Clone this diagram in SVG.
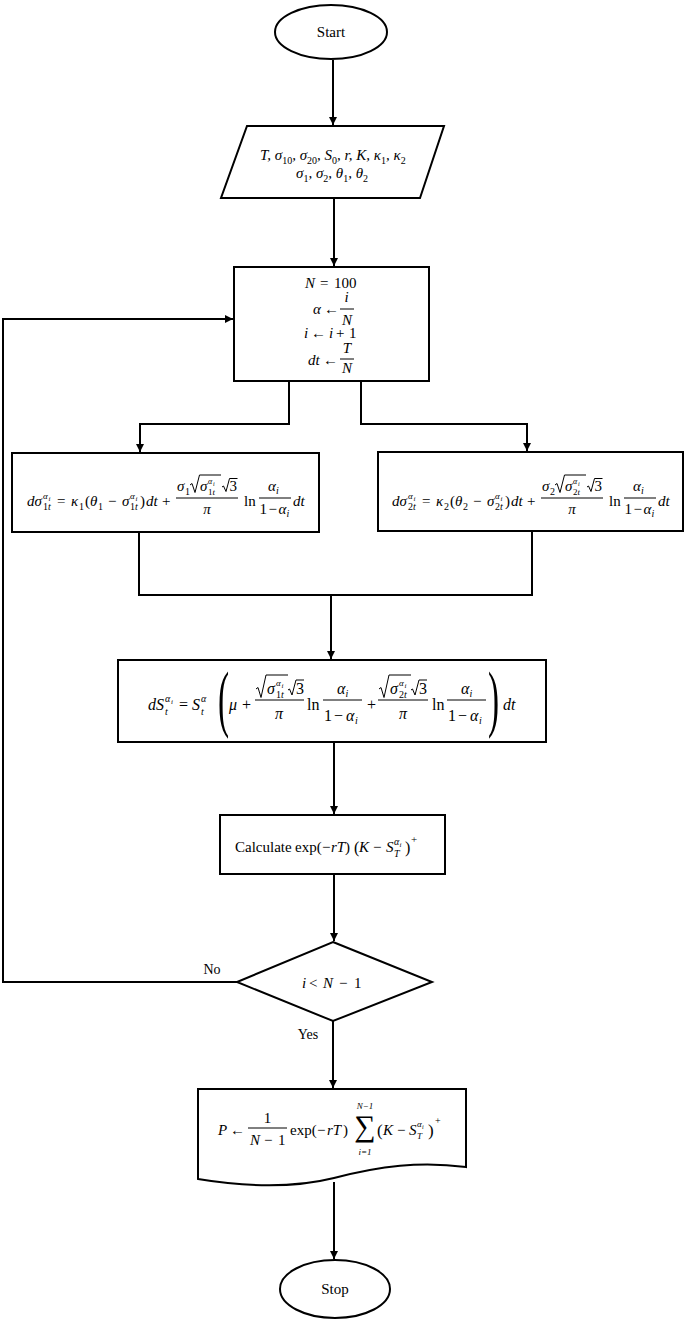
<svg xmlns="http://www.w3.org/2000/svg" width="685" height="1320" viewBox="0 0 685 1320">
<style>
.shape{fill:#fff;stroke:#000;stroke-width:2}
.ln{fill:none;stroke:#000;stroke-width:2}
.fr{stroke:#000;stroke-width:1}
.rad{fill:none;stroke:#000;stroke-width:1}
.t{font-family:"Liberation Serif","DejaVu Serif",serif;fill:#000}
.m{font-family:"Liberation Serif","DejaVu Serif",serif;font-style:italic;fill:#000}
.u{font-style:normal}
.c{text-anchor:middle}
</style>
<defs>
<marker id="ah" markerUnits="userSpaceOnUse" markerWidth="9" markerHeight="8" refX="8" refY="4" orient="auto">
<path d="M0,0 L8,4 L0,8 z" fill="#000"/>
</marker>
</defs>
<rect width="685" height="1320" fill="#fff"/>

<g id="connectors">
<path class="ln" d="M333,60 V125" marker-end="url(#ah)"/>
<path class="ln" d="M334,198 V266" marker-end="url(#ah)"/>
<path class="ln" d="M289,381 V424 H140 V452" marker-end="url(#ah)"/>
<path class="ln" d="M361,381 V424 H527 V451" marker-end="url(#ah)"/>
<path class="ln" d="M139,532 V595 H532 V531"/>
<path class="ln" d="M331,595 V659" marker-end="url(#ah)"/>
<path class="ln" d="M334,742 V814" marker-end="url(#ah)"/>
<path class="ln" d="M334,874 V941" marker-end="url(#ah)"/>
<path class="ln" d="M237,982 H3 V319 H233" marker-end="url(#ah)"/>
<path class="ln" d="M333,1021 V1088" marker-end="url(#ah)"/>
<path class="ln" d="M334,1182 V1259" marker-end="url(#ah)"/>
<text class="t" x="212" y="974" font-size="14" text-anchor="middle">No</text>
<text class="t" x="308" y="1039" font-size="14" text-anchor="middle">Yes</text>
</g>

<g id="start">
<ellipse class="shape" cx="331" cy="32" rx="56" ry="27"/>
<text class="t c" x="331" y="37" font-size="15">Start</text>
</g>

<g id="input">
<path class="shape" d="M247,126 H444 L420,198 H221 Z"/>
<text class="m" font-size="15"><tspan x="260" y="160">T, σ</tspan><tspan class="u" y="164" font-size="10">10</tspan><tspan y="160">, σ</tspan><tspan class="u" y="164" font-size="10">20</tspan><tspan y="160">, S</tspan><tspan class="u" y="164" font-size="10">0</tspan><tspan y="160">, r, K, κ</tspan><tspan class="u" y="164" font-size="10">1</tspan><tspan y="160">, κ</tspan><tspan class="u" y="164" font-size="10">2</tspan></text>
<text class="m" font-size="15"><tspan x="296" y="178">σ</tspan><tspan class="u" y="182" font-size="10">1</tspan><tspan y="178">, σ</tspan><tspan class="u" y="182" font-size="10">2</tspan><tspan y="178">, θ</tspan><tspan class="u" y="182" font-size="10">1</tspan><tspan y="178">, θ</tspan><tspan class="u" y="182" font-size="10">2</tspan></text>
</g>

<g id="init">
<rect class="shape" x="234" y="267" width="195" height="114"/>
<text class="m" font-size="15"><tspan x="305" y="288">N</tspan><tspan class="u" x="320" y="288">=</tspan><tspan class="u" x="334" y="288">100</tspan></text>
<text class="m" font-size="15"><tspan x="313" y="314">α</tspan><tspan class="u" x="324" y="314">←</tspan><tspan class="c" x="346.5" y="302">i</tspan><tspan class="c" x="347" y="325">N</tspan></text>
<line class="fr" x1="340" y1="309" x2="354" y2="309"/>
<text class="m" font-size="15"><tspan x="304" y="338">i</tspan><tspan class="u" x="311" y="338">←</tspan><tspan x="329" y="338">i</tspan><tspan class="u" x="336" y="338">+</tspan><tspan class="u" x="349" y="338">1</tspan></text>
<text class="m" font-size="15"><tspan x="308" y="365">dt</tspan><tspan class="u" x="323" y="365">←</tspan><tspan class="c" x="347" y="353">T</tspan><tspan class="c" x="347" y="373">N</tspan></text>
<line class="fr" x1="340" y1="359" x2="354" y2="359"/>
</g>

<g id="sigma1">
<rect class="shape" x="12" y="453" width="307" height="79"/>
<text class="m" font-size="15"><tspan x="27" y="506">dσ</tspan><tspan class="u" x="43" y="510" font-size="10">1</tspan><tspan x="48" y="510" font-size="10">t</tspan><tspan x="43" y="498.5" font-size="9">α</tspan><tspan x="48.5" y="500.5" font-size="7">i</tspan><tspan class="u" x="57" y="506">=</tspan><tspan x="71" y="506">κ</tspan><tspan class="u" x="79" y="510" font-size="10">1</tspan><tspan class="u" x="85" y="506">(</tspan><tspan x="90" y="506">θ</tspan><tspan class="u" x="98" y="510" font-size="10">1</tspan><tspan class="u" x="108" y="506">−</tspan><tspan x="122" y="506">σ</tspan><tspan class="u" x="130" y="510" font-size="10">1</tspan><tspan x="135" y="510" font-size="10">t</tspan><tspan x="130" y="498.5" font-size="9">α</tspan><tspan x="135.5" y="500.5" font-size="7">i</tspan><tspan class="u" x="140" y="506">)</tspan><tspan x="146" y="506">dt</tspan><tspan class="u" x="162" y="506">+</tspan><tspan x="177" y="491">σ</tspan><tspan class="u" x="185" y="494.5" font-size="10">1</tspan><tspan x="200" y="491">σ</tspan><tspan class="u" x="208" y="494.5" font-size="9">1</tspan><tspan x="212.5" y="494.5" font-size="9">t</tspan><tspan x="208" y="484" font-size="8">α</tspan><tspan x="213" y="486" font-size="6">i</tspan><tspan class="u" x="229.5" y="491">3</tspan><tspan class="c" x="207" y="514">π</tspan><tspan class="u" x="244" y="506">ln</tspan><tspan x="268" y="491">α</tspan><tspan x="276" y="494" font-size="10">i</tspan><tspan class="u" x="259.5" y="514">1</tspan><tspan class="u" x="268.5" y="514">−</tspan><tspan x="278.5" y="514">α</tspan><tspan x="286.5" y="517" font-size="10">i</tspan><tspan x="293" y="506">dt</tspan></text>
<line class="fr" x1="176" y1="498" x2="238" y2="498"/>
<line class="fr" x1="259" y1="498" x2="291" y2="498"/>
<path class="rad" d="M190,485 l2,-1.5 l3,9 l4.5,-17.5 H221"/>
<path class="rad" d="M222,487 l1.5,-1 l2.5,5.5 l3.5,-13 H237.5"/>
</g>

<g id="sigma2">
<rect class="shape" x="378" y="452" width="305" height="79"/>
<g transform="translate(365,0)">
<text class="m" font-size="15"><tspan x="27" y="506">dσ</tspan><tspan class="u" x="43" y="510" font-size="10">2</tspan><tspan x="48" y="510" font-size="10">t</tspan><tspan x="43" y="498.5" font-size="9">α</tspan><tspan x="48.5" y="500.5" font-size="7">i</tspan><tspan class="u" x="57" y="506">=</tspan><tspan x="71" y="506">κ</tspan><tspan class="u" x="79" y="510" font-size="10">2</tspan><tspan class="u" x="85" y="506">(</tspan><tspan x="90" y="506">θ</tspan><tspan class="u" x="98" y="510" font-size="10">2</tspan><tspan class="u" x="108" y="506">−</tspan><tspan x="122" y="506">σ</tspan><tspan class="u" x="130" y="510" font-size="10">2</tspan><tspan x="135" y="510" font-size="10">t</tspan><tspan x="130" y="498.5" font-size="9">α</tspan><tspan x="135.5" y="500.5" font-size="7">i</tspan><tspan class="u" x="140" y="506">)</tspan><tspan x="146" y="506">dt</tspan><tspan class="u" x="162" y="506">+</tspan><tspan x="177" y="491">σ</tspan><tspan class="u" x="185" y="494.5" font-size="10">2</tspan><tspan x="200" y="491">σ</tspan><tspan class="u" x="208" y="494.5" font-size="9">2</tspan><tspan x="212.5" y="494.5" font-size="9">t</tspan><tspan x="208" y="484" font-size="8">α</tspan><tspan x="213" y="486" font-size="6">i</tspan><tspan class="u" x="229.5" y="491">3</tspan><tspan class="c" x="207" y="514">π</tspan><tspan class="u" x="244" y="506">ln</tspan><tspan x="268" y="491">α</tspan><tspan x="276" y="494" font-size="10">i</tspan><tspan class="u" x="259.5" y="514">1</tspan><tspan class="u" x="268.5" y="514">−</tspan><tspan x="278.5" y="514">α</tspan><tspan x="286.5" y="517" font-size="10">i</tspan><tspan x="293" y="506">dt</tspan></text>
<line class="fr" x1="176" y1="498" x2="238" y2="498"/>
<line class="fr" x1="259" y1="498" x2="291" y2="498"/>
<path class="rad" d="M190,485 l2,-1.5 l3,9 l4.5,-17.5 H221"/>
<path class="rad" d="M222,487 l1.5,-1 l2.5,5.5 l3.5,-13 H237.5"/>
</g>
</g>

<g id="stock">
<rect class="shape" x="118" y="660" width="428" height="82"/>
<text class="m" font-size="16"><tspan x="148" y="710">dS</tspan><tspan x="165" y="715" font-size="10">t</tspan><tspan x="165" y="702" font-size="10">α</tspan><tspan x="171" y="704" font-size="7">i</tspan><tspan class="u" x="179" y="710">=</tspan><tspan x="192" y="710">S</tspan><tspan x="201" y="715" font-size="10">t</tspan><tspan x="201" y="702" font-size="10">α</tspan><tspan x="229" y="710">μ</tspan><tspan class="u" x="242" y="710">+</tspan><tspan x="267" y="694">σ</tspan><tspan class="u" x="276" y="698" font-size="10">1</tspan><tspan x="281" y="698" font-size="10">t</tspan><tspan x="276" y="686" font-size="9">α</tspan><tspan x="281.5" y="688" font-size="7">i</tspan><tspan class="u" x="296" y="694">3</tspan><tspan class="c" x="279" y="719">π</tspan><tspan class="u" x="307" y="710">ln</tspan><tspan x="337" y="694">α</tspan><tspan x="345.5" y="697" font-size="10">i</tspan><tspan class="u" x="324" y="721">1</tspan><tspan class="u" x="334" y="721">−</tspan><tspan x="346" y="721">α</tspan><tspan x="355" y="724" font-size="10">i</tspan><tspan class="u" x="367" y="710">+</tspan><tspan x="390" y="694">σ</tspan><tspan class="u" x="399" y="698" font-size="10">2</tspan><tspan x="404" y="698" font-size="10">t</tspan><tspan x="399" y="686" font-size="9">α</tspan><tspan x="404.5" y="688" font-size="7">i</tspan><tspan class="u" x="419" y="694">3</tspan><tspan class="c" x="403" y="719">π</tspan><tspan class="u" x="432" y="710">ln</tspan><tspan x="461" y="694">α</tspan><tspan x="469.5" y="697" font-size="10">i</tspan><tspan class="u" x="448" y="721">1</tspan><tspan class="u" x="458" y="721">−</tspan><tspan x="470" y="721">α</tspan><tspan x="479" y="724" font-size="10">i</tspan><tspan x="503" y="710">dt</tspan></text>
<text class="t" transform="translate(218,723) scale(0.45,1)" font-size="74">(</text>
<text class="t" transform="translate(488,723) scale(0.45,1)" font-size="74">)</text>
<line class="fr" x1="255" y1="700" x2="304" y2="700"/>
<line class="fr" x1="323" y1="700" x2="362" y2="700"/>
<line class="fr" x1="378" y1="700" x2="428" y2="700"/>
<line class="fr" x1="447" y1="700" x2="486" y2="700"/>
<path class="rad" d="M256,689 l2,-1.5 l3,10 l5,-22.5 H288"/>
<path class="rad" d="M288,690 l1.5,-1 l2.5,6 l4,-15 H304"/>
<path class="rad" d="M379,689 l2,-1.5 l3,10 l5,-22.5 H411"/>
<path class="rad" d="M411,690 l1.5,-1 l2.5,6 l4,-15 H427"/>
</g>

<g id="calc">
<rect class="shape" x="220" y="815" width="225" height="59"/>
<text class="t" font-size="15"><tspan x="235" y="852">Calculate</tspan><tspan x="295" y="852">exp(</tspan><tspan x="322" y="852">−</tspan><tspan class="m" x="331" y="852">rT</tspan><tspan x="345" y="852">)</tspan><tspan x="354" y="853" font-size="16">(</tspan><tspan class="m" x="359" y="852">K</tspan><tspan x="373" y="852">−</tspan><tspan class="m" x="386" y="852">S</tspan><tspan class="m" x="394" y="857" font-size="10">T</tspan><tspan class="m" x="394" y="845" font-size="10">α</tspan><tspan class="m" x="399.5" y="847" font-size="7">i</tspan><tspan x="405" y="853" font-size="16">)</tspan><tspan x="411" y="843" font-size="11">+</tspan></text>
</g>

<g id="decision">
<path class="shape" d="M333,942 L432,982 L333,1021 L237,982 Z"/>
<text class="m" font-size="15"><tspan x="302" y="988">i</tspan><tspan class="u" x="309" y="988">&lt;</tspan><tspan x="323" y="988">N</tspan><tspan class="u" x="339" y="988">−</tspan><tspan class="u" x="354" y="988">1</tspan></text>
</g>

<g id="result">
<path class="shape" d="M198,1089 H466 V1167 C420,1161 380,1166 334,1178 C290,1189 240,1186 198,1179 Z"/>
<text class="m" font-size="15"><tspan x="218" y="1135">P</tspan><tspan class="u" x="230" y="1135">←</tspan><tspan class="u c" x="267.5" y="1123">1</tspan><tspan x="250" y="1145">N</tspan><tspan class="u" x="264" y="1145">−</tspan><tspan class="u" x="278" y="1145">1</tspan><tspan class="u" x="290" y="1135">exp(</tspan><tspan class="u" x="317" y="1135">−</tspan><tspan x="327" y="1135">rT</tspan><tspan class="u" x="343" y="1135">)</tspan><tspan class="c" x="365" y="1109" font-size="9">N−1</tspan><tspan class="c" x="365" y="1155" font-size="9">i=1</tspan><tspan class="u" x="377" y="1136" font-size="17">(</tspan><tspan x="383" y="1135">K</tspan><tspan class="u" x="397" y="1135">−</tspan><tspan x="409" y="1135">S</tspan><tspan x="417" y="1139" font-size="9">T</tspan><tspan x="417" y="1127" font-size="9">α</tspan><tspan x="422" y="1129" font-size="6">i</tspan><tspan class="u" x="428" y="1136" font-size="17">)</tspan><tspan class="u" x="435" y="1124" font-size="10">+</tspan></text>
<line class="fr" x1="248" y1="1128" x2="287" y2="1128"/>
<text class="t c" x="365" y="1136" font-size="30">∑</text>
</g>

<g id="stop">
<ellipse class="shape" cx="335" cy="1289" rx="55" ry="29"/>
<text class="t c" x="335" y="1294" font-size="15">Stop</text>
</g>
</svg>
